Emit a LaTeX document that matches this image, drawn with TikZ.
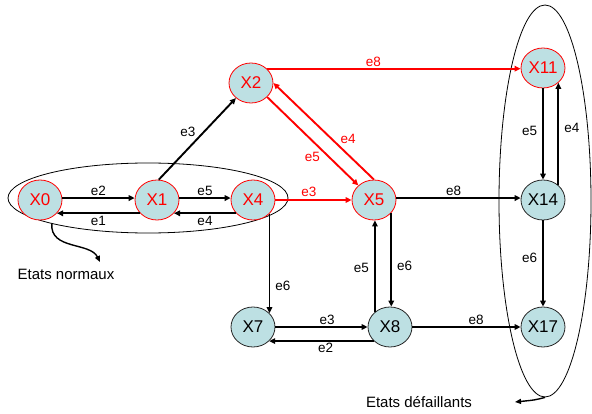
\documentclass[tikz,border=0pt]{standalone}
\usepackage{fontspec}
\setmainfont{Liberation Sans}
\usetikzlibrary{shapes.geometric,arrows.meta}
\definecolor{nodefill}{HTML}{BDE0E3}
\definecolor{myred}{HTML}{FF0000}
\begin{document}
\begin{tikzpicture}[x=1pt,y=-1pt,
  state/.style={ellipse,draw=myred,line width=0.8pt,fill=nodefill,minimum width=44pt,minimum height=40pt,inner sep=0pt,font=\fontsize{17}{17}\selectfont,text=myred},
  dstate/.style={state,draw=black!85,text=black},
  arr/.style={line width=1.9pt,-{Triangle[length=6pt,width=5.5pt]}},
  rarr/.style={arr,draw=myred},
  lbl/.style={font=\fontsize{13.5}{13.5}\selectfont,inner sep=0pt,text=black},
  rlbl/.style={lbl,text=myred},
  grp/.style={ellipse,draw,line width=0.8pt,inner sep=0pt},
  thin arr/.style={line width=1.4pt,-{Triangle[length=6pt,width=5pt]}},
  caption/.style={font=\fontsize{15}{15}\selectfont,inner sep=0pt}
]
\useasboundingbox (0,0) rectangle (592,414);

% group ellipses
\node[grp,minimum width=280pt,minimum height=70pt] (gA) at (148,198) {};
\node[grp,minimum width=92pt,minimum height=392pt] (gB) at (545,201) {};

% states
\node[state] (X0) at (40,200) {X0};
\node[state] (X1) at (157,200) {X1};
\node[state] (X4) at (253,200) {X4};
\node[state] (X2) at (251,83) {X2};
\node[state] (X5) at (374,200) {X5};
\node[state] (X11) at (543,68) {X11};
\node[dstate] (X14) at (543,200) {X14};
\node[dstate] (X17) at (543,327) {X17};
\node[dstate] (X7) at (253,327) {X7};
\node[dstate] (X8) at (390,327) {X8};

% row 1
\draw[arr] (X0.5) -- node[lbl,above=1.5pt] {e2} (X1.175);
\draw[arr] (X1.218) -- node[lbl,below=1.5pt] {e1} (X0.-38);
\draw[arr] (X1.5) -- node[lbl,above=1.5pt] {e5} (X4.175);
\draw[arr] (X4.218) -- node[lbl,below=1.5pt] {e4} (X1.-38);
\draw[rarr] (X4.east) -- node[rlbl,pos=0.44,above=2.5pt] {e3} (X5.west);
\draw[arr] (X5.5) -- node[lbl,pos=0.46,above=1.5pt] {e8} (X14.175);

% diagonals
\draw[arr] (X1.85) -- node[lbl,above left=1pt] {e3} (X2.225);
\draw[rarr] (X2.-41) -- node[rlbl,pos=0.6,below left=1pt] {e5} (X5.137);
\draw[rarr] (X5.north) -- node[rlbl,pos=0.35,above right=1pt] {e4} (X2.east);
\draw[rarr] (X2.42) -- node[rlbl,pos=0.42,above=1.5pt] {e8} (X2.42 -| X11.west);

% verticals
\draw[arr] (X4.-40.6) -- node[lbl,pos=0.72,right=5pt] {e6} (X7.40.6);
\draw[arr] (X5.-37) -- node[lbl,pos=0.56,right=5pt] {e6} (X5.-37 |- X8.north);
\draw[arr] (X8.135.7) -- node[lbl,pos=0.48,left=5pt] {e5} (X8.135.7 |- X5.south);
\draw[arr] (X11.south) -- node[lbl,pos=0.47,left=5pt] {e5} (X14.north);
\draw[arr] (X14.44.3) -- node[lbl,pos=0.56,right=5pt] {e4} (X11.-44.3);
\draw[arr] (X14.south) -- node[lbl,pos=0.43,left=5pt] {e6} (X17.north);

% row 2
\draw[arr] (X7.east) -- node[lbl,pos=0.56,above=1.5pt] {e3} (X8.west);
\draw[arr] (X8.221.7) -- node[lbl,pos=0.46,below=1.5pt] {e2} (X7.-41.7);
\draw[arr] (X8.east) -- node[lbl,pos=0.59,above=1.5pt] {e8} (X17.west);

% captions
\coordinate (pA) at (100,262);
\coordinate (pB) at (515,402);
\draw[thin arr] (gA.195) .. controls (50,250) and (90,242) .. (pA);
\draw[thin arr] (gB.south) .. controls (535,400) .. (pB);
\node[caption] (tA) at (66,274) {Etats normaux};
\node[caption] (tB) at (419,402) {Etats défaillants};
\end{tikzpicture}
\end{document}
